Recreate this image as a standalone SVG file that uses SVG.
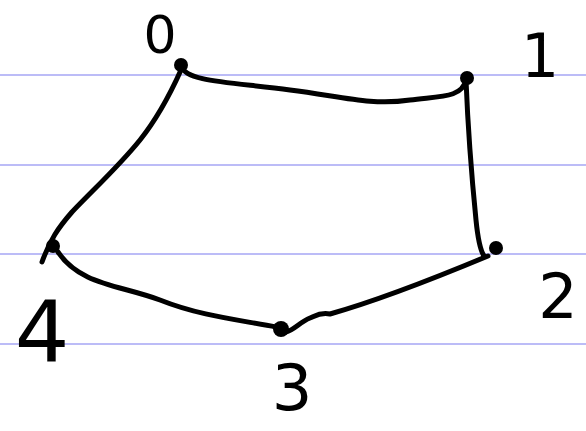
<svg xmlns="http://www.w3.org/2000/svg" width="586" height="431" viewBox="0 0 586 431">
<style>
.rule{stroke:#a6a6f5;stroke-width:1.5}
.edge{fill:none;stroke:#000;stroke-width:5;stroke-linecap:round;stroke-linejoin:round}
.node{fill:#000}
.lbl{font-family:"DejaVu Sans","Liberation Sans",sans-serif;fill:#000;text-anchor:middle}
</style>
<rect width="586" height="431" fill="#fff"/>
<g id="rules">
<line class="rule" x1="0" y1="75" x2="586" y2="75"/>
<line class="rule" x1="0" y1="165" x2="586" y2="165"/>
<line class="rule" x1="0" y1="254" x2="586" y2="254"/>
<line class="rule" x1="0" y1="344" x2="586" y2="344"/>
</g>
<g id="connectors">
<path class="edge" d="M181,66 C186,82 230,82 290,90 C340,96 370,106 410,100 C440,96 462,98 466,80"/>
<path class="edge" d="M466,80 C468,130 472,180 476,220 C478,240 480,250 484,256"/>
<path class="edge" d="M488,256 C440,276 380,300 330,314 C320,312 315,316 310,318 C300,322 294,330 286,332"/>
<path class="edge" d="M276,327 C240,320 200,316 160,300 C120,285 80,285 58,252"/>
<path class="edge" d="M42,262 C50,240 58,228 72,212 C95,188 120,165 140,140 C160,115 172,90 181,70"/>
</g>
<g id="node0"><circle class="node" cx="181" cy="65" r="7"/><text class="lbl" x="160" y="53" font-size="52">0</text></g>
<g id="node1"><circle class="node" cx="467" cy="78" r="7"/><text class="lbl" x="540" y="77" font-size="60">1</text></g>
<g id="node2"><circle class="node" cx="496" cy="248" r="7"/><text class="lbl" x="558" y="318" font-size="62">2</text></g>
<g id="node3"><circle class="node" cx="281" cy="329" r="8"/><text class="lbl" x="292" y="410" font-size="64">3</text></g>
<g id="node4"><circle class="node" cx="53" cy="246" r="7"/><text class="lbl" x="42" y="362" font-size="86">4</text></g>
</svg>
